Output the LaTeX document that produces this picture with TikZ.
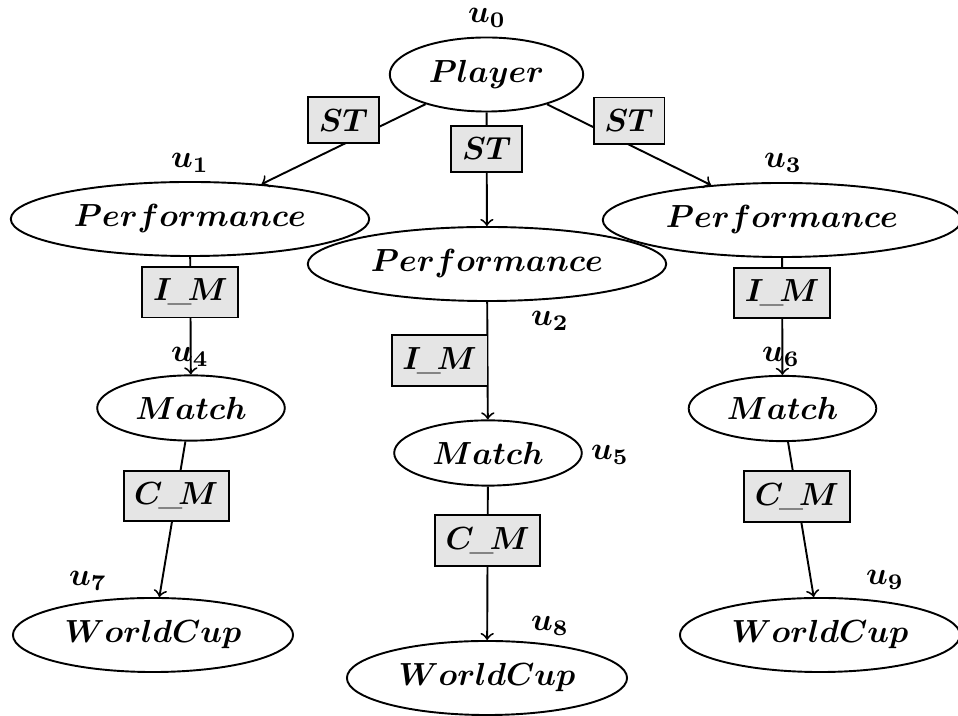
\documentclass[tikz,border=0pt]{standalone}
\usepackage{amsmath}
\usepackage{bm}
\usepackage{tikz}
\usetikzlibrary{
  arrows,
  positioning,
  shapes}
\tikzset{entity/.style={ellipse, draw, semithick, inner ysep=3.75pt},
         relation/.style={rectangle, draw, semithick, fill=gray!20, inner ysep=3.8pt},
         st/.style={relation, minimum width=22.2pt},
         uid/.style={inner sep=0pt}
        }
\newcommand{\relIM}{$\bm{I}\kern-1.3pt\_\kern-1.3pt\bm{M}$}
\newcommand{\relCM}{$\bm{C}\kern-1.3pt\_\kern-1.3pt\bm{M}$}

\begin{document}
\begin{tikzpicture}[x=0.313pt, y=-0.313pt]
\useasboundingbox (0,0) rectangle (958,716);

\node[entity](player) at (486.5,74.5){$\bm{Player}$};
\node[entity](perf_left) at (190,219){$\bm{Performance}$};
\node[entity](perf_mid) at (487,264){$\bm{Performance}$};
\node[entity](perf_right) at (782,220){$\bm{Performance}$};
\node[entity](match_left) at (191,408){$\bm{Match}$};
\node[entity](match_mid) at (488,453){$\bm{Match}$};
\node[entity](match_right) at (782.5,408.5){$\bm{Match}$};
\node[entity](cup_left) at (153,635){$\bm{WorldCup}$};
\node[entity](cup_mid) at (487,678){$\bm{WorldCup}$};
\node[entity](cup_right) at (820,635){$\bm{WorldCup}$};

\node[uid](u_0) at (487,18){$\bm{u_0}$};
\node[uid](u_1) at (190,163){$\bm{u_1}$};
\node[uid](u_2) at (550,321){$\bm{u_2}$};
\node[uid](u_3) at (783,163){$\bm{u_3}$};
\node[uid](u_4) at (190,357){$\bm{u_4}$};
\node[uid](u_5) at (610,455){$\bm{u_5}$};
\node[uid](u_6) at (781,357){$\bm{u_6}$};
\node[uid](u_7) at (88,581){$\bm{u_7}$};
\node[uid](u_8) at (550,626){$\bm{u_8}$};
\node[uid](u_9) at (885,580){$\bm{u_9}$};

\draw[->, semithick](player) -- node[st, above, pos=0.5]{$\bm{ST}$} (perf_left);
\draw[->, semithick](player) -- node[st, pos=0.32]{$\bm{ST}$} (perf_mid);
\draw[->, semithick](player) -- node[st, above, pos=0.5]{$\bm{ST}$} (perf_right);

\draw[->, semithick](perf_left) -- node[relation, pos=0.3]{\relIM} (match_left);
\draw[->, semithick](perf_mid) -- node[relation, left, pos=0.5, xshift=0.3pt]{\relIM} (match_mid);
\draw[->, semithick](perf_right) -- node[relation, pos=0.3]{\relIM} (match_right);

\draw[->, semithick](match_left) -- node[relation, pos=0.35]{\relCM} (cup_left);
\draw[->, semithick](match_mid) -- node[relation, pos=0.35]{\relCM} (cup_mid);
\draw[->, semithick](match_right) -- node[relation, pos=0.35]{\relCM} (cup_right);

\end{tikzpicture}
\end{document}
